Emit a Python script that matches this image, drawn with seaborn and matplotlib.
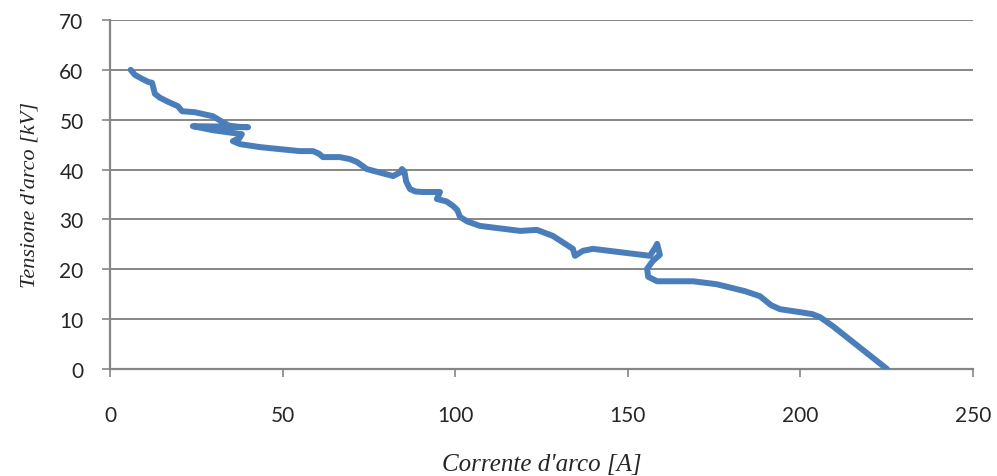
import matplotlib
matplotlib.use("Agg")
import matplotlib.pyplot as plt
import seaborn as sns
import pandas as pd

# Arc current [A] and arc voltage [kV] along the measured trace
corrente = [6.0, 7.2, 9.3, 11.0, 12.2, 12.5, 13.0, 14.5, 16.8, 19.7, 20.9, 24.6,
            29.8, 32.7, 34.8, 38.0, 40.0, 36.0, 24.0, 29.8, 38.2, 37.5, 35.6, 37.7,
            43.5, 49.2, 55.0, 58.8, 60.5, 61.7, 66.6, 69.5, 71.6, 74.4, 82.0, 84.0,
            84.6, 85.3, 85.8, 86.9, 88.5, 90.7, 95.6, 94.7, 97.5, 99.4, 100.6,
            101.4, 103.5, 107.2, 118.8, 123.7, 128.3, 134.1, 134.7, 137.0,
            139.9, 156.4, 158.0, 158.5, 159.3, 157.3, 155.6, 155.9, 158.5,
            168.9, 175.8, 184.0, 188.3, 191.5, 194.1, 199.9, 203.5, 205.7,
            209.4, 225.1]
tensione = [60.0, 59.0, 58.2, 57.6, 57.4, 56.6, 55.2, 54.4, 53.6, 52.7, 51.7, 51.5,
            50.7, 49.5, 48.7, 48.5, 48.5, 48.6, 48.7, 47.9, 47.1, 46.3, 45.7, 45.1,
            44.5, 44.1, 43.7, 43.7, 43.2, 42.5, 42.5, 42.1, 41.5, 40.1, 38.7, 39.4,
            40.1, 39.6, 37.6, 36.1, 35.6, 35.5, 35.5, 34.1, 33.6, 32.7, 31.9,
            30.5, 29.6, 28.7, 27.7, 27.9, 26.7, 24.1, 22.7, 23.7,
            24.1, 22.7, 24.4, 25.1, 22.9, 21.7, 20.1, 18.5, 17.6,
            17.6, 17.0, 15.6, 14.6, 12.8, 12.0, 11.4, 11.0, 10.4,
            8.6, 0.0]

x_ticks = [0, 50, 100, 150, 200, 250]
y_ticks = [0, 10, 20, 30, 40, 50, 60, 70]

df = pd.DataFrame({"Corrente": corrente, "Tensione": tensione})

sns.set_style("white")
plt.rcParams["font.family"] = ["Lato", "DejaVu Sans"]

fig = plt.figure(figsize=(9.97, 4.77), dpi=100)
ax = fig.add_axes([0.1103, 0.2243, 0.8656, 0.7317])

grid_col = "#868686"
for v in y_ticks[1:]:
    ax.axhline(v, color=grid_col, lw=1.4, zorder=1)

sns.lineplot(data=df, x="Corrente", y="Tensione", sort=False, estimator=None,
             color="#4A7EBB", lw=4.3, ax=ax, zorder=3,
             solid_capstyle="round", solid_joinstyle="round")

ax.set_xlim(0, 250)
ax.set_ylim(0, 70)
ax.set_xticks(x_ticks)
ax.set_yticks(y_ticks)
ax.tick_params(axis="x", direction="out", length=6, width=1.2, color=grid_col,
               pad=20, labelsize=15, bottom=True)
ax.tick_params(axis="y", direction="out", length=6, width=1.2, color=grid_col,
               pad=13, labelsize=15, left=True)

for s in ["top", "right"]:
    ax.spines[s].set_visible(False)
for s in ["left", "bottom"]:
    ax.spines[s].set_color(grid_col)
    ax.spines[s].set_linewidth(1.6)

ax.set_xlabel("Corrente d'arco [A]", family="Liberation Serif", style="italic",
              fontsize=18, labelpad=20)
ax.set_ylabel("Tensione d'arco [kV]", family="Liberation Serif", style="italic",
              fontsize=16, labelpad=14)

fig.savefig("out.png", dpi=100)
